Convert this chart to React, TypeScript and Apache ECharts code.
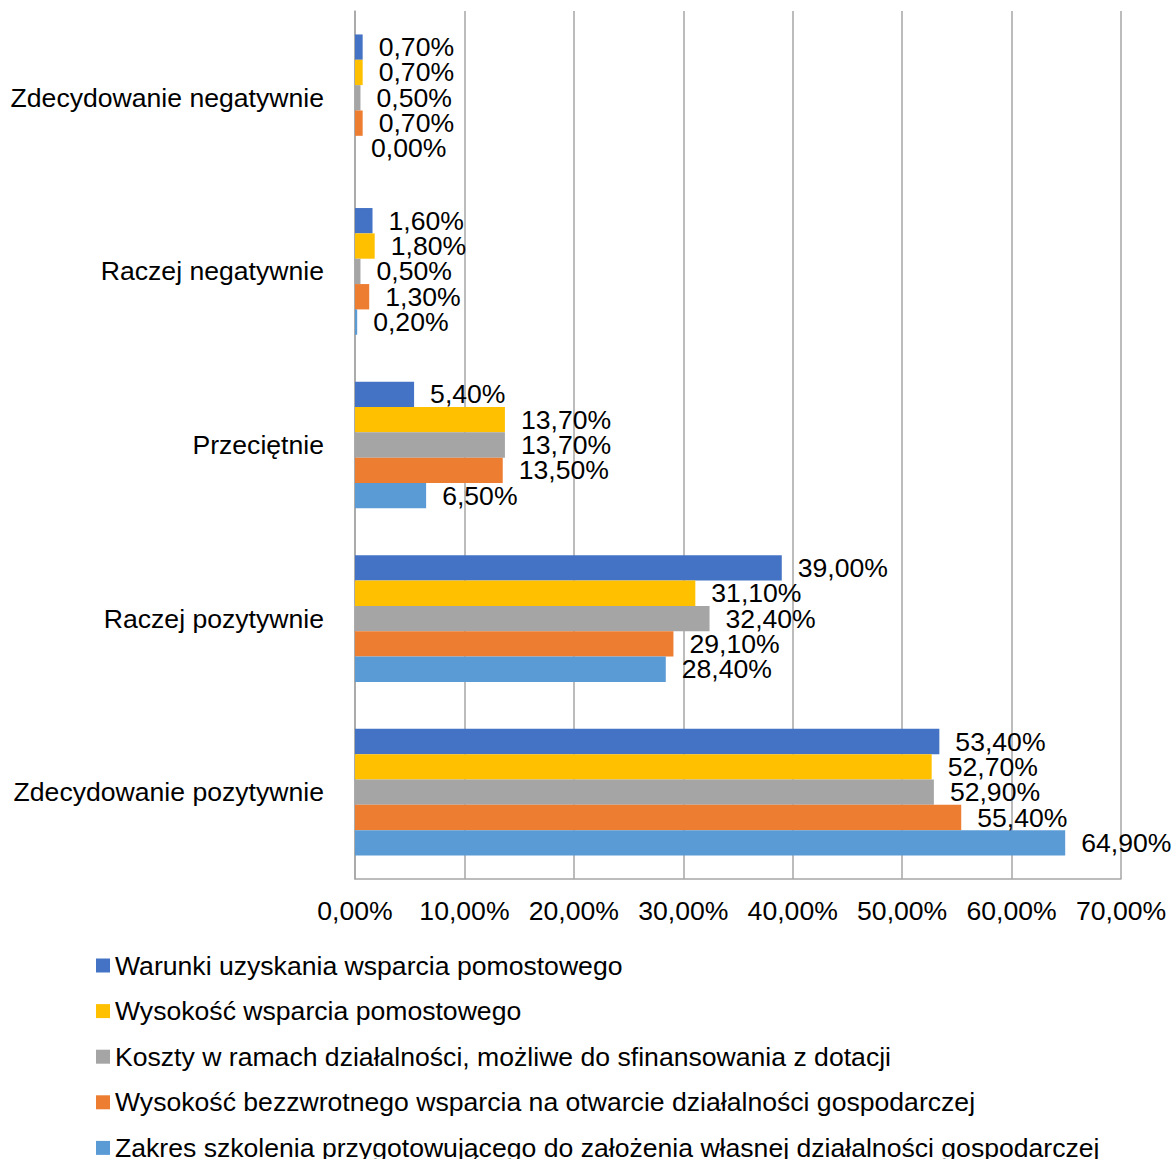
import React, { useEffect, useRef } from "react";
import * as echarts from "echarts";

const categories = [
  "Zdecydowanie negatywnie",
  "Raczej negatywnie",
  "Przeciętnie",
  "Raczej pozytywnie",
  "Zdecydowanie pozytywnie",
];

const seriesNames = [
  "Warunki uzyskania wsparcia pomostowego",
  "Wysokość wsparcia pomostowego",
  "Koszty w ramach działalności, możliwe do sfinansowania z dotacji",
  "Wysokość bezzwrotnego wsparcia na otwarcie działalności gospodarczej",
  "Zakres szkolenia przygotowującego do założenia własnej działalności gospodarczej",
];

const warunki = [0.7, 1.6, 5.4, 39.0, 53.4];
const wysokoscPomostowego = [0.7, 1.8, 13.7, 31.1, 52.7];
const koszty = [0.5, 0.5, 13.7, 32.4, 52.9];
const wysokoscBezzwrotnego = [0.7, 1.3, 13.5, 29.1, 55.4];
const zakresSzkolenia = [0.0, 0.2, 6.5, 28.4, 64.9];

const seriesValues = [warunki, wysokoscPomostowego, koszty, wysokoscBezzwrotnego, zakresSzkolenia];
const colors = ["#4472C4", "#FFC000", "#A5A5A5", "#ED7D31", "#5B9BD5"];

const FONT = "'Liberation Sans', Arial, sans-serif";
const FS = 26.6;
const fmt = (v: number) => v.toFixed(2).replace(".", ",") + "%";

export default function App() {
  const ref = useRef<HTMLDivElement>(null);
  useEffect(() => {
    if (!ref.current) return;
    const chart = echarts.init(ref.current, undefined, { renderer: "svg" });
    chart.setOption({
      animation: false,
      backgroundColor: "#ffffff",
      textStyle: { fontFamily: FONT },
      grid: { left: 355, right: 51, top: 11, bottom: 280, containLabel: false },
      legend: {
        orient: "vertical",
        left: 96,
        top: 952,
        height: 260,
        padding: 0,
        itemWidth: 14,
        itemHeight: 14,
        itemGap: 18.6,
        icon: "rect",
        textStyle: { fontSize: FS, color: "#000", fontFamily: FONT },
        data: seriesNames,
      },
      xAxis: {
        type: "value",
        min: 0,
        max: 70,
        interval: 10,
        axisLine: { show: true, lineStyle: { color: "#A6A6A6", width: 1.5 } },
        axisTick: { show: false },
        splitLine: { show: true, lineStyle: { color: "#A6A6A6", width: 1.5 } },
        axisLabel: {
          formatter: (v: number) => fmt(v),
          fontSize: FS,
          color: "#000",
          fontFamily: FONT,
          margin: 18,
        },
      },
      yAxis: {
        type: "category",
        inverse: true,
        data: categories,
        axisLine: { show: true, lineStyle: { color: "#A6A6A6", width: 1.5 } },
        axisTick: { show: false },
        axisLabel: { fontSize: FS, color: "#000", fontFamily: FONT, margin: 31 },
      },
      series: seriesNames.map((name, i) => ({
        name,
        type: "bar",
        data: seriesValues[i],
        barGap: "0%",
        barCategoryGap: "27%",
        itemStyle: { color: colors[i] },
        label: {
          show: true,
          position: "right",
          distance: 16,
          formatter: (p: any) => fmt(p.value),
          fontSize: FS,
          color: "#000",
          fontFamily: FONT,
        },
      })),
    });
    return () => chart.dispose();
  }, []);
  return (
    <div
      ref={ref}
      style={{ position: "fixed", left: 0, top: 0, width: 1172, height: 1159, background: "#fff" }}
    />
  );
}
